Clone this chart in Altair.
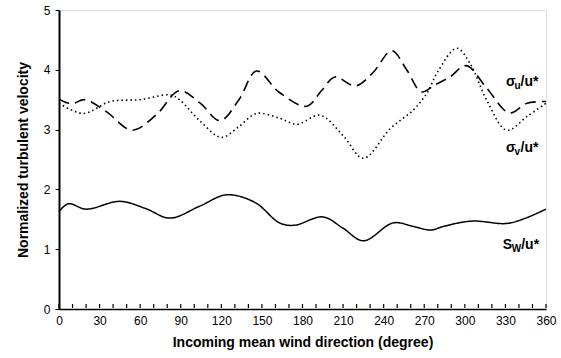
import altair as alt
import pandas as pd

su_dir = [0, 9, 19, 35, 54, 72, 89, 104, 119, 133, 146, 163, 183, 194, 204, 219, 232, 246, 257, 268, 278, 289, 301, 316, 333, 346, 360]
su_val = [3.51, 3.43, 3.50, 3.30, 2.99, 3.25, 3.65, 3.45, 3.15, 3.50, 3.98, 3.62, 3.39, 3.65, 3.88, 3.73, 3.95, 4.32, 4.00, 3.63, 3.75, 3.88, 4.07, 3.70, 3.28, 3.44, 3.47]

sv_dir = [0, 18, 38, 60, 82, 89, 104, 120, 133, 146, 163, 176, 193, 210, 225, 245, 262, 272, 280, 294, 304, 316, 331, 346, 360]
sv_val = [3.44, 3.27, 3.47, 3.50, 3.58, 3.50, 3.15, 2.87, 3.05, 3.27, 3.19, 3.09, 3.24, 2.90, 2.52, 3.02, 3.33, 3.61, 3.97, 4.36, 4.10, 3.50, 2.99, 3.22, 3.44]

sw_dir = [0, 7, 20, 45, 64, 82, 104, 124, 145, 163, 174, 195, 210, 225, 247, 262, 275, 284, 305, 331, 345, 360]
sw_val = [1.63, 1.76, 1.67, 1.80, 1.68, 1.52, 1.72, 1.91, 1.78, 1.44, 1.40, 1.54, 1.35, 1.14, 1.44, 1.38, 1.32, 1.38, 1.47, 1.43, 1.52, 1.67]

x_ticks = list(range(0, 361, 30))
minor_ticks = list(range(0, 361, 10))
y_ticks = [0, 1, 2, 3, 4, 5]

FONT = "Liberation Sans"

df = pd.concat([
    pd.DataFrame({"dir": su_dir, "val": su_val, "series": "su"}),
    pd.DataFrame({"dir": sv_dir, "val": sv_val, "series": "sv"}),
    pd.DataFrame({"dir": sw_dir, "val": sw_val, "series": "sw"}),
])

xscale = alt.Scale(domain=[0, 360], nice=False, zero=False)
yscale = alt.Scale(domain=[0, 5], nice=False)

xaxis = alt.Axis(values=x_ticks, title="Incoming mean wind direction (degree)", ticks=False,
                 labelFont=FONT, labelFontSize=12, labelColor="black", labelPadding=6,
                 titleFont=FONT, titleFontSize=14, titleFontWeight="bold", titleColor="black",
                 titlePadding=9, domainColor="black", domainWidth=1.5, grid=False, labelFlush=False,
                 format="d")
yaxis = alt.Axis(values=y_ticks, title="Normalized turbulent velocity", ticks=True, tickSize=4,
                 tickColor="black", tickWidth=1,
                 labelFont=FONT, labelFontSize=12, labelColor="black", labelPadding=5,
                 titleFont=FONT, titleFontSize=14, titleFontWeight="bold", titleColor="black",
                 titlePadding=13, domainColor="black", domainWidth=2, grid=False, format="d")

base = alt.Chart(df)

def line(series, dash, width):
    return base.transform_filter(alt.datum.series == series).mark_line(
        color="black", strokeWidth=width, strokeDash=dash, interpolate="catmull-rom"
    ).encode(
        x=alt.X("dir:Q", scale=xscale, axis=xaxis),
        y=alt.Y("val:Q", scale=yscale, axis=yaxis),
    )

l_su = line("su", [11, 6], 1.6)
l_sv = line("sv", [1.5, 3], 1.6)
l_sw = line("sw", [1, 0], 1.5)

ticks = alt.Chart(pd.DataFrame({"t": minor_ticks})).mark_rule(color="black", strokeWidth=1.2).encode(
    x=alt.X("t:Q", scale=xscale),
    y=alt.value(298),
    y2=alt.value(294),
)

# label annotations: base, subscript, rest
def label(x, y, basech, sub, sub_dx, rest_dx):
    d = pd.DataFrame({"x": [x], "y": [y]})
    c = alt.Chart(d)
    enc = dict(x=alt.X("x:Q", scale=xscale), y=alt.Y("y:Q", scale=yscale))
    a = c.mark_text(text=basech, font=FONT, fontSize=14, fontWeight="bold", align="left",
                    baseline="middle", color="black").encode(**enc)
    b = c.mark_text(text=sub, font=FONT, fontSize=10, fontWeight="bold", align="left",
                    baseline="middle", color="black", dx=sub_dx, dy=4).encode(**enc)
    r = c.mark_text(text="/u*", font=FONT, fontSize=14, fontWeight="bold", align="left",
                    baseline="middle", color="black", dx=rest_dx).encode(**enc)
    return a + b + r

lab_u = label(330.5, 3.80, "σ", "u", 8.5, 14.5)
lab_v = label(330.5, 2.69, "σ", "v", 8.5, 14.5)
lab_w = label(328, 1.07, "S", "W", 9, 18.5)

chart = alt.layer(l_su, l_sv, l_sw, lab_u, lab_v, lab_w, ticks).properties(
    width=487, height=299,
    autosize=alt.AutoSizeParams(type="none"),
    padding={"left": 59, "top": 10, "right": 15, "bottom": 49},
).configure_view(stroke="black", strokeWidth=1).configure(background="white")

chart.save("out.html", embed_options={"renderer": "svg", "actions": False})
